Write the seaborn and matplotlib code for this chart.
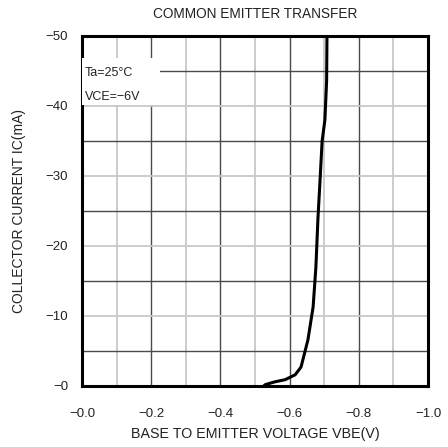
import matplotlib
matplotlib.use("Agg")
import matplotlib.pyplot as plt
import seaborn as sns
from matplotlib.patches import Rectangle
from matplotlib.ticker import FixedLocator

# data
vbe = [-0.525, -0.530, -0.558, -0.587, -0.616, -0.633, -0.653, -0.668,
       -0.676, -0.682, -0.688, -0.694, -0.702, -0.707, -0.708]
ic = [0.0, -0.2, -0.6, -0.9, -1.6, -2.7, -6.6, -11.3,
      -17.0, -24.0, -29.4, -35.0, -38.0, -43.6, -50.0]

x_ticks = [0.0, -0.2, -0.4, -0.6, -0.8, -1.0]
x_labels = ["\u22120.0", "\u22120.2", "\u22120.4", "\u22120.6", "\u22120.8", "\u22121.0"]
y_ticks = [0, -10, -20, -30, -40, -50]
y_labels = ["\u22120", "\u221210", "\u221220", "\u221230", "\u221240", "\u221250"]

sns.set_style("white")
plt.rcParams['font.family'] = ['Liberation Sans', 'DejaVu Sans']

fig = plt.figure(figsize=(4.48, 4.47), dpi=100)
ax = fig.add_axes([82 / 448, 61 / 447, 346 / 448, 350 / 447])

sns.lineplot(x=vbe, y=ic, sort=False, color="black", linewidth=2.2, ax=ax, zorder=5)

ax.set_xlim(0, -1.0)
ax.set_ylim(0, -50)

ax.xaxis.set_major_locator(FixedLocator(x_ticks))
ax.xaxis.set_minor_locator(FixedLocator([-0.1, -0.3, -0.5, -0.7, -0.9]))
ax.yaxis.set_major_locator(FixedLocator(y_ticks))
ax.yaxis.set_minor_locator(FixedLocator([-5, -15, -25, -35, -45]))
ax.set_xticklabels(x_labels)
ax.set_yticklabels(y_labels)

# dark / light alternating grid
ax.grid(True, axis="x", which="major", color="#4a4a4a", linewidth=1.0)
ax.grid(True, axis="x", which="minor", color="#c8c8c8", linewidth=1.3)
ax.grid(True, axis="y", which="major", color="#c8c8c8", linewidth=1.3)
ax.grid(True, axis="y", which="minor", color="#4a4a4a", linewidth=1.0)
ax.set_axisbelow(True)

ax.tick_params(axis="both", which="both", length=0, labelsize=9.5, colors="#222222")
ax.tick_params(axis="x", pad=16)
ax.tick_params(axis="y", pad=10)

for s in ax.spines.values():
    s.set_visible(True)
    s.set_color("black")
    s.set_linewidth(2.2)

# white patch behind the conditions text
ax.add_patch(Rectangle((0, 0.803), 0.225, 0.134, transform=ax.transAxes,
                       facecolor="white", edgecolor="none", zorder=3))
ax.text(0.009, 0.894, "Ta=25\u00b0C", transform=ax.transAxes,
        fontsize=9, va="center", ha="left", zorder=4, color="#222222")
ax.text(0.009, 0.826, "VCE=\u22126V", transform=ax.transAxes,
        fontsize=9, va="center", ha="left", zorder=4, color="#222222")

fig.text(255 / 448, 1 - 14 / 447, "COMMON EMITTER TRANSFER", ha="center", va="center",
         fontsize=9.8, color="#222222")
ax.set_xlabel("BASE TO EMITTER VOLTAGE VBE(V)", fontsize=10.3, color="#222222", labelpad=5)
ax.set_ylabel("COLLECTOR CURRENT IC(mA)", fontsize=10, color="#222222", labelpad=14)

fig.savefig("out.png", dpi=100)
